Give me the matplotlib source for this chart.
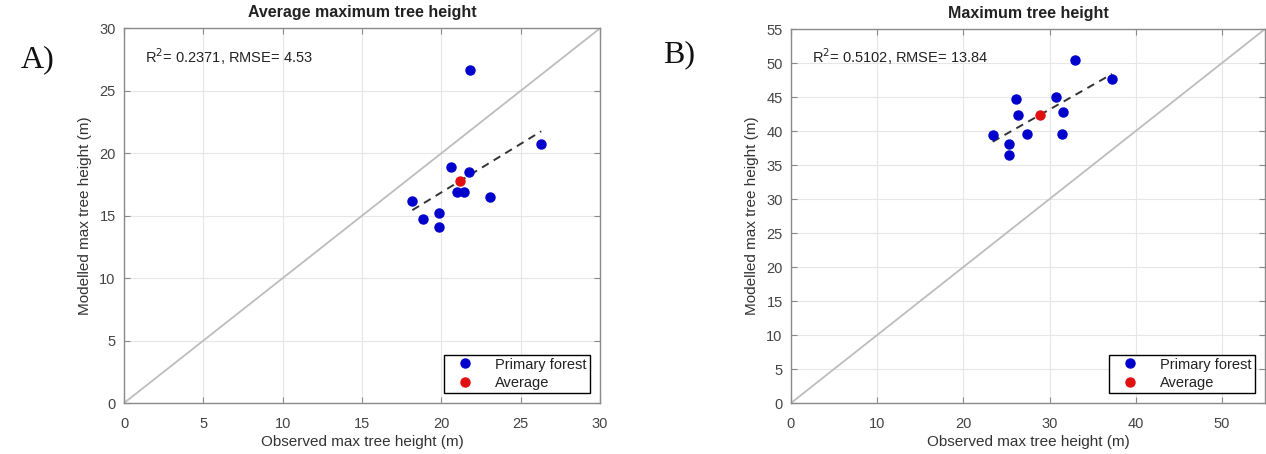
import numpy as np
import matplotlib
matplotlib.use("Agg")
import matplotlib.pyplot as plt
from matplotlib.lines import Line2D

plt.rcParams['font.family'] = ['Liberation Sans', 'DejaVu Sans']

# A) average maximum tree height per plot
obs_avg = [18.17, 18.82, 19.85, 19.83, 20.60, 21.76, 20.96, 21.44, 23.08, 26.29, 21.80]
mod_avg = [16.2, 14.7, 15.2, 14.1, 18.9, 18.5, 16.9, 16.9, 16.5, 20.7, 26.7]
stats_avg = "R$^2$= 0.2371, RMSE= 4.53"

# B) maximum tree height per plot
obs_max = [26.09, 26.30, 23.40, 27.40, 25.24, 25.24, 30.70, 31.60, 31.40, 33.00, 37.26]
mod_max = [44.65, 42.4, 39.4, 39.5, 38.1, 36.5, 45.0, 42.75, 39.6, 50.4, 47.7]
stats_max = "R$^2$= 0.5102, RMSE= 13.84"

TXT = '#333333'
EDGE = '#8a8a8a'


def panel(ax, obs, mod, title, stats, lim, xticks, yticks):
    obs = np.asarray(obs)
    mod = np.asarray(mod)
    ax.plot([0, lim[0]], [0, lim[0]], color='#bdbdbd', lw=1.3, zorder=1)
    # least-squares fit over the observed range
    k, b = np.polyfit(obs, mod, 1)
    xs = np.array([obs.min(), obs.max()])
    ax.plot(xs, k * xs + b, ls=(0, (4, 3)), color='#333333', lw=1.4, zorder=2)
    ax.plot(obs, mod, 'o', color='#0000cc', ms=6.5, zorder=3)
    ax.plot(obs.mean(), mod.mean(), 'o', color='#e01010', ms=6.5, zorder=4)

    ax.set_xlim(0, lim[0])
    ax.set_ylim(0, lim[1])
    ax.set_xticks(xticks)
    ax.set_yticks(yticks)
    ax.grid(True, color='#e6e6e6', lw=0.8)
    ax.set_axisbelow(True)
    ax.tick_params(direction='in', top=True, right=True, length=4,
                   color=EDGE, labelcolor='#444444', labelsize=10.5)
    ax.tick_params(axis='x', pad=10)
    ax.tick_params(axis='y', pad=6)
    for s in ax.spines.values():
        s.set_color(EDGE)
        s.set_linewidth(1.0)
    ax.set_title(title, fontsize=11.5, fontweight='bold', color='#222222', pad=8)
    ax.set_xlabel('Observed max tree height (m)', fontsize=11, color=TXT, labelpad=3)
    ax.set_ylabel('Modelled max tree height (m)', fontsize=11, color=TXT, labelpad=5)
    ax.text(0.045, 0.925, stats, transform=ax.transAxes, fontsize=10.5,
            color='#222222', va='center')

    handles = [Line2D([], [], ls='none', marker='o', color='#0000cc', ms=6.5),
               Line2D([], [], ls='none', marker='o', color='#e01010', ms=6.5)]
    leg = ax.legend(handles, ['Primary forest', 'Average'], loc='lower right',
                    fancybox=False, framealpha=1, edgecolor='black',
                    fontsize=10.5, handlelength=2.4, handletextpad=0.9,
                    borderpad=0.2, labelspacing=0.3, borderaxespad=0.7)
    leg.get_frame().set_linewidth(1.0)
    for t in leg.get_texts():
        t.set_color('#222222')


fig = plt.figure(figsize=(12.66, 4.54), dpi=100)
ax1 = fig.add_axes([0.098, 0.1123, 0.376, 0.8254])
ax2 = fig.add_axes([0.6248, 0.1123, 0.3744, 0.8237])

panel(ax1, obs_avg, mod_avg, 'Average maximum tree height', stats_avg,
      (30, 30), range(0, 31, 5), range(0, 31, 5))
panel(ax2, obs_max, mod_max, 'Maximum tree height', stats_max,
      (55, 55), range(0, 51, 10), range(0, 56, 5))

fig.text(0.016, 0.868, 'A)', family='Liberation Serif', fontsize=23, color='#111111', va='center')
fig.text(0.524, 0.879, 'B)', family='Liberation Serif', fontsize=23, color='#111111', va='center')

fig.savefig('out.png', dpi=100)
